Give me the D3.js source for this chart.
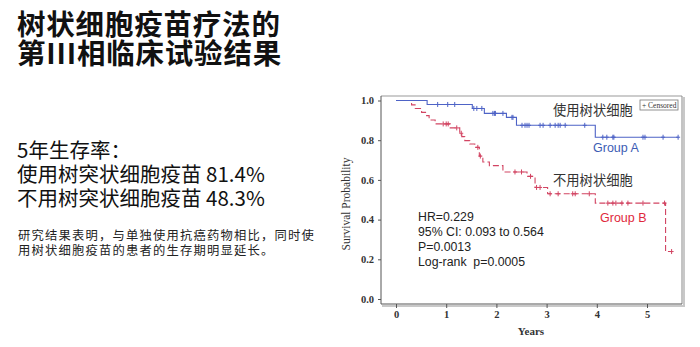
<!DOCTYPE html>
<html><head><meta charset="utf-8">
<script src="https://cdn.jsdelivr.net/npm/d3@7"></script>
<style>
html,body{margin:0;padding:0;background:#fff;}
svg{display:block;}
</style>
</head><body>
<svg id="c" width="700" height="347"></svg>
<script>
// ---- data ----
const titleLines = ["树状细胞疫苗疗法的", "第III相临床试验结果"];
const rateLines = ["5年生存率：", "使用树突状细胞疫苗 81.4%", "不用树突状细胞疫苗 48.3%"];
const noteLines = ["研究结果表明，与单独使用抗癌药物相比，同时使", "用树状细胞疫苗的患者的生存期明显延长。"];
const statLines = ["HR=0.229", "95% CI: 0.093 to 0.564", "P=0.0013", "Log-rank  p=0.0005"];

const xTicks = [0, 1, 2, 3, 4, 5];
const yTicks = [0, 0.2, 0.4, 0.6, 0.8, 1.0];

// Group A (使用树状细胞) Kaplan-Meier steps
const aTimes = [0, 0.62, 1.52, 1.76, 2.2, 2.4, 3.97];
const aSurv  = [1.0, 0.98, 0.96, 0.935, 0.915, 0.875, 0.815];
const aEnd = 5.62;
const aCensor = [0.83, 1.03, 1.17, 1.55, 1.61, 1.71, 1.93, 1.96, 1.98, 2.13, 2.31, 2.33,
  2.51, 2.57, 2.61, 2.65, 2.87, 2.93, 3.07, 3.17, 3.23, 3.27, 3.37, 3.76,
  4.12, 4.2, 4.32, 4.34, 4.92, 4.96, 5.32, 5.62];

// Group B (不用树状细胞)
const bTimes = [0, 0.31, 0.38, 0.51, 0.61, 0.66, 0.78, 1.08, 1.27, 1.31, 1.37, 1.47, 1.57, 1.66, 1.73, 1.86, 2.13, 2.61, 2.77, 3.02, 3.97, 5.37];
const bSurv  = [1.0, 0.978, 0.96, 0.94, 0.924, 0.902, 0.882, 0.862, 0.835, 0.818, 0.798, 0.781, 0.764, 0.72, 0.69, 0.672, 0.64, 0.618, 0.562, 0.53, 0.483, 0.239];
const bEnd = 5.49;
const bCensor = [0.94, 1.0, 1.04, 1.21, 1.30, 1.63, 1.68, 2.37, 2.5, 2.68, 2.8, 2.87,
  3.07, 3.23, 3.52, 3.57, 3.85, 4.22, 4.32, 4.38, 4.5, 4.62, 4.92, 5.35, 5.49];

// ---- drawing ----
const svg = d3.select("#c");
const cjk = "'Noto Sans CJK SC','Noto Sans',sans-serif";
const serif = "'Liberation Serif','DejaVu Serif',serif";
const sans = "'Liberation Sans',Arial,sans-serif";

// left texts
svg.selectAll(".title").data(titleLines).enter().append("text")
  .attr("x", 17).attr("y", (d, i) => 35 + i * 29)
  .attr("font-family", cjk).attr("font-weight", "bold").attr("font-size", 28.5)
  .attr("letter-spacing", 0.8).attr("fill", "#111").text(d => d);

svg.selectAll(".rate").data(rateLines).enter().append("text")
  .attr("x", 17).attr("y", (d, i) => 158 + i * 24)
  .attr("font-family", cjk).attr("font-size", 20.5)
  .attr("fill", "#111").text(d => d);

svg.selectAll(".note").data(noteLines).enter().append("text")
  .attr("x", 18).attr("y", (d, i) => 240 + i * 15)
  .attr("font-family", cjk).attr("font-size", 12.3).attr("letter-spacing", 1.2)
  .attr("fill", "#222").text(d => d);

// chart
const x = d3.scaleLinear().domain([0, 5]).range([396, 647]);
const y = d3.scaleLinear().domain([0, 1]).range([299, 100.5]);
const L = 381, R = 682, T = 96, B = 304;

// frame shadow + frame
svg.append("line").attr("x1", R + 2).attr("x2", R + 2).attr("y1", T + 1).attr("y2", B + 2)
  .attr("stroke", "#c8c8c8").attr("stroke-width", 2);
svg.append("line").attr("x1", L + 1).attr("x2", R + 3).attr("y1", B + 2).attr("y2", B + 2)
  .attr("stroke", "#c8c8c8").attr("stroke-width", 2);
svg.append("line").attr("x1", L).attr("x2", R).attr("y1", T).attr("y2", T)
  .attr("stroke", "#999").attr("stroke-width", 1);
svg.append("line").attr("x1", R).attr("x2", R).attr("y1", T).attr("y2", B)
  .attr("stroke", "#888").attr("stroke-width", 1);

// axes
const yAxis = svg.append("g").attr("transform", `translate(${L},0)`)
  .call(d3.axisLeft(y).tickValues(yTicks).tickFormat(d3.format(".1f")).tickSize(3).tickPadding(4));
yAxis.select(".domain").attr("d", `M0,${T}V${B}`).attr("stroke", "#555");
const xAxis = svg.append("g").attr("transform", `translate(0,${B})`)
  .call(d3.axisBottom(x).tickValues(xTicks).tickFormat(d3.format("d")).tickSize(4).tickPadding(3));
xAxis.select(".domain").attr("d", `M${L},0H${R}`).attr("stroke", "#555");
svg.selectAll(".tick line").attr("stroke", "#555");
svg.selectAll(".tick text").attr("font-family", serif).attr("font-size", 10.5)
  .attr("font-weight", "bold").attr("fill", "#333");

svg.append("text").attr("transform", "translate(350,204) rotate(-90)")
  .attr("text-anchor", "middle").attr("font-family", serif).attr("font-size", 11.5)
  .attr("fill", "#333").text("Survival Probability");
svg.append("text").attr("x", 531).attr("y", 335).attr("text-anchor", "middle")
  .attr("font-family", serif).attr("font-size", 11).attr("font-weight", "bold")
  .attr("fill", "#333").text("Years");

// KM curves
function stepData(times, surv, end) {
  const pts = times.map((t, i) => [t, surv[i]]);
  pts.push([end, surv[surv.length - 1]]);
  return pts;
}
function survAt(times, surv, t) {
  let s = surv[0];
  for (let i = 0; i < times.length; i++) if (times[i] <= t) s = surv[i];
  return s;
}
const line = d3.line().x(d => x(d[0])).y(d => y(d[1])).curve(d3.curveStepAfter);
const blue = "#4e63c6", red = "#d24462";

svg.append("path").datum(stepData(bTimes, bSurv, bEnd)).attr("d", line)
  .attr("fill", "none").attr("stroke", red).attr("stroke-width", 1.1).attr("stroke-dasharray", "6,3");
svg.append("path").datum(stepData(aTimes, aSurv, aEnd)).attr("d", line)
  .attr("fill", "none").attr("stroke", blue).attr("stroke-width", 1.1);

function censors(times, surv, list, color) {
  const g = svg.append("g").attr("stroke", color).attr("stroke-width", 1);
  list.forEach(t => {
    const cx = x(t), cy = y(survAt(times, surv, t));
    g.append("line").attr("x1", cx).attr("x2", cx).attr("y1", cy - 2.5).attr("y2", cy + 2.5);
    g.append("line").attr("x1", cx - 2).attr("x2", cx + 2).attr("y1", cy).attr("y2", cy);
  });
}
censors(aTimes, aSurv, aCensor, blue);
censors(bTimes, bSurv, bCensor, red);

// legend
svg.append("rect").attr("x", 640).attr("y", 100).attr("width", 38).attr("height", 10)
  .attr("fill", "#fff").attr("stroke", "#777").attr("stroke-width", 0.8);
svg.append("text").attr("x", 642).attr("y", 107.8).attr("font-family", serif)
  .attr("font-size", 7.5).attr("fill", "#333").text("+ Censored");

// annotations
svg.append("text").attr("x", 553).attr("y", 115).attr("font-family", cjk).attr("font-size", 13.3)
  .attr("fill", "#333").text("使用树状细胞");
svg.append("text").attr("x", 593).attr("y", 152).attr("font-family", sans).attr("font-size", 12.5)
  .attr("fill", "#3d5cb4").text("Group A");
svg.append("text").attr("x", 553).attr("y", 185).attr("font-family", cjk).attr("font-size", 13.3)
  .attr("fill", "#333").text("不用树状细胞");
svg.append("text").attr("x", 600).attr("y", 221.5).attr("font-family", sans).attr("font-size", 12.5)
  .attr("fill", "#e0283c").text("Group B");

svg.selectAll(".stat").data(statLines).enter().append("text")
  .attr("x", 418).attr("y", (d, i) => 221 + i * 15)
  .attr("font-family", sans).attr("font-size", 12.3).attr("fill", "#222")
  .attr("xml:space", "preserve").style("white-space", "pre").text(d => d);
</script>
</body></html>
